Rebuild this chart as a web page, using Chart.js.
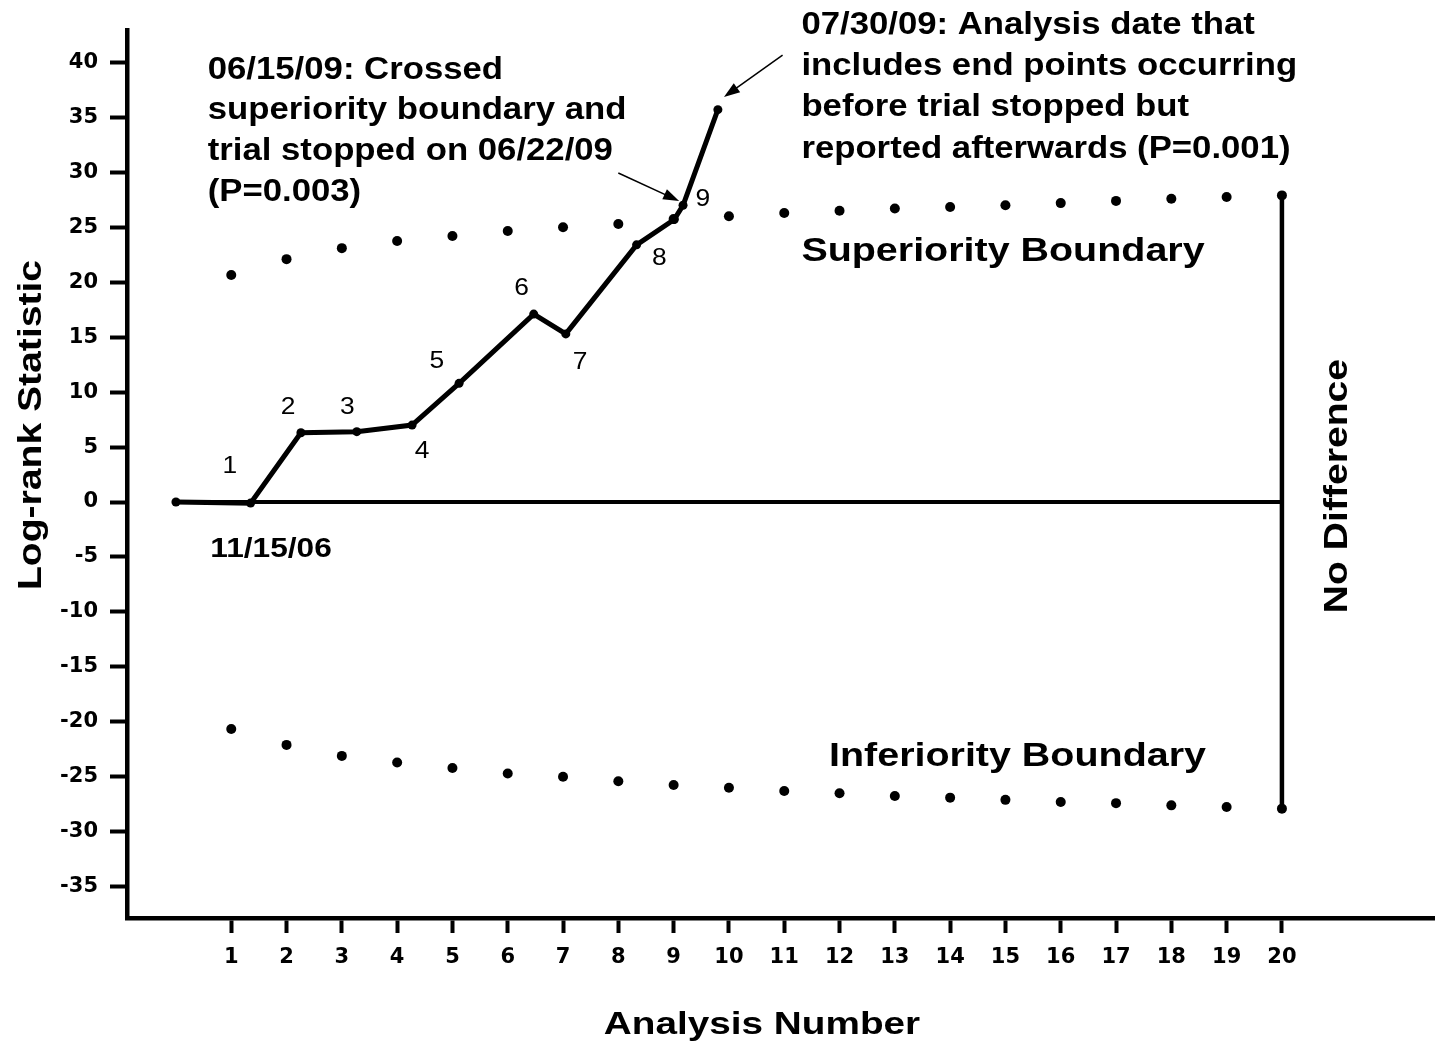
<!DOCTYPE html>
<html>
<head>
<meta charset="utf-8">
<script src="https://cdn.jsdelivr.net/npm/chart.js@4"></script>
<style>
  html, body { margin: 0; padding: 0; background: #fff; }
  canvas { display: block; }
</style>
</head>
<body>
<canvas id="c" width="1439" height="1042"></canvas>
<script>
// ---- Data ----
const xTickValues = [1,2,3,4,5,6,7,8,9,10,11,12,13,14,15,16,17,18,19,20];
const yTickValues = [-35,-30,-25,-20,-15,-10,-5,0,5,10,15,20,25,30,35,40];

const statX = [0, 1.35, 2.26, 3.27, 4.27, 5.12, 6.47, 7.05, 8.33, 9.01, 9.17, 9.8];
const statY = [0, -0.1, 6.3, 6.4, 7.0, 10.8, 17.1, 15.3, 23.4, 25.7, 27.0, 35.7];

const boundaryX = [1,2,3,4,5,6,7,8,9,10,11,12,13,14,15,16,17,18,19,20];
const superiorY = [20.65, 22.1, 23.1, 23.75, 24.2, 24.66, 25.0, 25.3, 25.75, 26.0, 26.3, 26.5, 26.7, 26.85, 27.0, 27.2, 27.4, 27.6, 27.75, 27.9];
const inferiorY = [-20.65, -22.1, -23.1, -23.7, -24.2, -24.7, -25.0, -25.4, -25.75, -26.0, -26.3, -26.5, -26.75, -26.9, -27.1, -27.3, -27.4, -27.6, -27.75, -27.9];

const zeroLineX = [0, 20];
const zeroLineY = [0, 0];
const noDiffX = [20, 20];
const noDiffY = [27.9, -27.9];

const pointLabels = ['1','2','3','4','5','6','7','8','9'];
const pointLabelX = [0.975, 2.03, 3.10, 4.45, 4.72, 6.25, 7.31, 8.74, 9.53];
const pointLabelY = [3.28, 8.64, 8.64, 4.64, 12.83, 19.47, 12.74, 22.2, 27.57];

const note1Lines = ['06/15/09: Crossed', 'superiority boundary and', 'trial stopped on 06/22/09', '(P=0.003)'];
const note2Lines = ['07/30/09: Analysis date that', 'includes end points occurring', 'before trial stopped but', 'reported afterwards (P=0.001)'];

const toPts = (xs, ys) => xs.map((x, i) => ({x: x, y: ys[i]}));

const FAM = '"Liberation Sans", Arial, Helvetica, sans-serif';

// ---- Annotation plugin ----
const annot = {
  id: 'annot',
  afterDatasetsDraw(chart) {
    const c = chart.ctx, sx = chart.scales.x, sy = chart.scales.y;
    const X = v => sx.getPixelForValue(v), Y = v => sy.getPixelForValue(v);
    const txt = (t, x, y, font, stretch, align, rot) => {
      c.save();
      c.translate(x, y);
      if (rot) c.rotate(rot);
      c.scale(stretch, 1);
      c.font = font;
      c.textAlign = align;
      c.fillText(t, 0, 0);
      c.restore();
    };
    c.save();
    c.fillStyle = '#000';
    c.textBaseline = 'middle';

    // point number labels
    pointLabels.forEach((t, i) => txt(t, X(pointLabelX[i]), Y(pointLabelY[i]), '24px ' + FAM, 1.1, 'center'));

    // date under first point
    txt('11/15/06', X(1.72), Y(-4.3), 'bold 28px ' + FAM, 1.13, 'center');

    // notes
    note1Lines.forEach((t, i) => txt(t, X(0.575), Y(39.3) + i * 40.7, 'bold 31px ' + FAM, 1.12, 'left'));
    note2Lines.forEach((t, i) => txt(t, X(11.31), Y(43.4) + i * 41.3, 'bold 31px ' + FAM, 1.12, 'left'));

    // boundary labels
    txt('Superiority Boundary', X(11.31), Y(22.75), 'bold 34px ' + FAM, 1.16, 'left');
    txt('Inferiority Boundary', X(11.81), Y(-23.2), 'bold 34px ' + FAM, 1.16, 'left');

    // arrows
    const arrow = (x1, y1, x2, y2) => {
      const a = X(x1), b = Y(y1), d = X(x2), e = Y(y2);
      const ang = Math.atan2(e - b, d - a);
      c.strokeStyle = '#000'; c.lineWidth = 1.5;
      c.beginPath(); c.moveTo(a, b); c.lineTo(d - 10 * Math.cos(ang), e - 10 * Math.sin(ang)); c.stroke();
      c.beginPath();
      c.moveTo(d, e);
      c.lineTo(d - 16 * Math.cos(ang) + 5.5 * Math.sin(ang), e - 16 * Math.sin(ang) - 5.5 * Math.cos(ang));
      c.lineTo(d - 16 * Math.cos(ang) - 5.5 * Math.sin(ang), e - 16 * Math.sin(ang) + 5.5 * Math.cos(ang));
      c.closePath(); c.fill();
    };
    arrow(8.0, 29.94, 9.1, 27.39);
    arrow(10.97, 40.67, 9.91, 36.85);

    // axis titles and rotated label
    txt('Analysis Number', 762, 1025, 'bold 32px ' + FAM, 1.21, 'center');
    txt('Log-rank Statistic', 32, 425, 'bold 34px ' + FAM, 1.15, 'center', -Math.PI / 2);
    txt('No Difference', X(21.0), Y(1.45), 'bold 34px ' + FAM, 1.15, 'center', -Math.PI / 2);
    c.restore();
  }
};

const tickFont = { family: '"DejaVu Sans", Verdana, sans-serif', size: 21, weight: 'bold' };

new Chart(document.getElementById('c').getContext('2d'), {
  type: 'scatter',
  data: {
    datasets: [
      { data: toPts(statX, statY), showLine: true, borderColor: '#000', borderWidth: 5, pointRadius: 4.5, pointBackgroundColor: '#000', pointBorderWidth: 0, clip: false },
      { data: toPts(boundaryX, superiorY), showLine: false, pointRadius: 5, pointBackgroundColor: '#000', pointBorderWidth: 0, clip: false },
      { data: toPts(boundaryX, inferiorY), showLine: false, pointRadius: 5, pointBackgroundColor: '#000', pointBorderWidth: 0, clip: false },
      { data: toPts(zeroLineX, zeroLineY), showLine: true, borderColor: '#000', borderWidth: 4, pointRadius: 0, clip: false },
      { data: toPts(noDiffX, noDiffY), showLine: true, borderColor: '#000', borderWidth: 4.5, pointRadius: 0, clip: false }
    ]
  },
  options: {
    responsive: false,
    animation: false,
    devicePixelRatio: 1,
    layout: { padding: { top: 30, right: 0, left: 0, bottom: 0 } },
    plugins: { legend: { display: false }, tooltip: { enabled: false } },
    scales: {
      x: {
        type: 'linear', min: -0.885, max: 22.75,
        afterBuildTicks: s => { s.ticks = xTickValues.map(v => ({ value: v })); },
        afterFit: s => { s.height = 124; },
        grid: { drawOnChartArea: false, drawTicks: true, tickLength: 15, tickWidth: 4, color: '#000' },
        border: { color: '#000', width: 4.5 },
        ticks: { color: '#000', font: tickFont, padding: 12, autoSkip: false, maxRotation: 0, callback: v => String(v) }
      },
      y: {
        type: 'linear', min: -37.85, max: 42.95,
        afterBuildTicks: s => { s.ticks = yTickValues.map(v => ({ value: v })); },
        afterFit: s => { s.width = 127; },
        grid: { drawOnChartArea: false, drawTicks: true, tickLength: 17, tickWidth: 4, color: '#000' },
        border: { color: '#000', width: 4.5 },
        ticks: { color: '#000', font: tickFont, padding: 12, autoSkip: false, callback: v => String(v) }
      }
    }
  },
  plugins: [annot]
});
</script>
</body>
</html>
